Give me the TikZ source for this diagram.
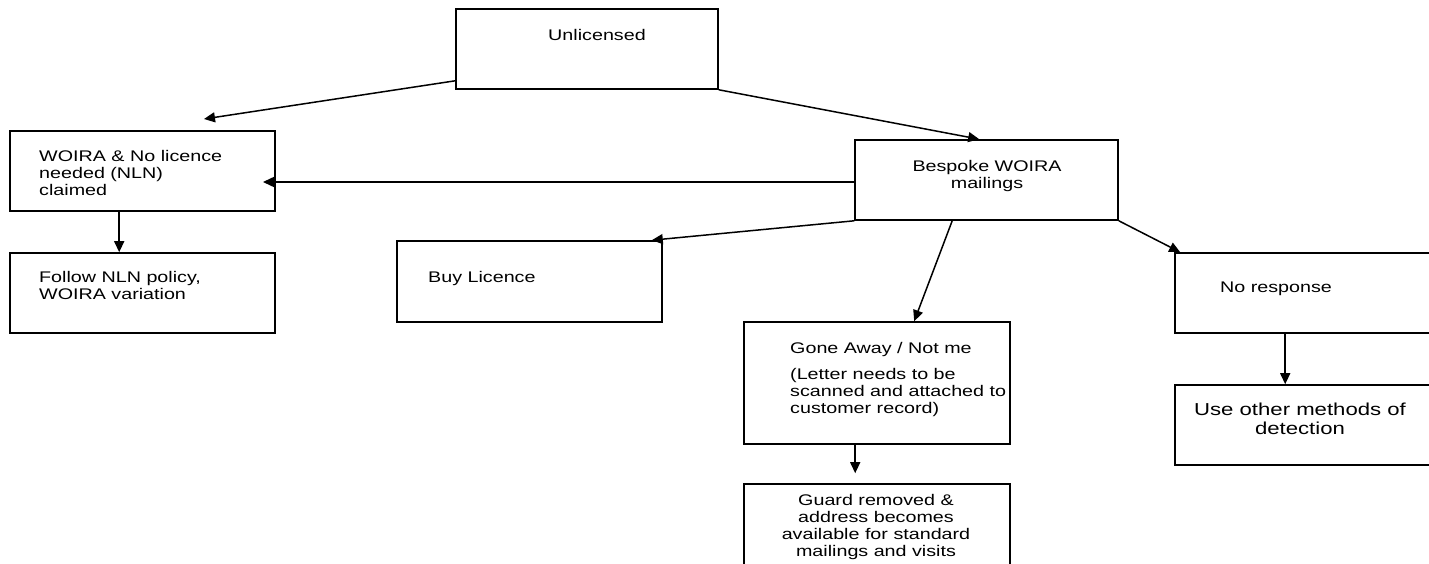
\documentclass[tikz,border=0pt]{standalone}
\usepackage{fontspec}
\setmainfont[FakeStretch=1.28]{Liberation Sans}
\usetikzlibrary{arrows.meta,calc}
\begin{document}
\begin{tikzpicture}[x=1pt,y=1pt,
  box/.style={draw, line width=1.6pt, inner sep=0pt},
  txt/.style={inner sep=0pt, font=\fontsize{15.4}{17}\selectfont},
  bigtxt/.style={inner sep=0pt, font=\fontsize{17.3}{19}\selectfont},
  arr/.style={line width=1.5pt, -{Triangle[length=11pt,width=10pt]}}]
\useasboundingbox (0,0) rectangle (1429,563);
\clip (0,0) rectangle (1429,563);
\fill[white] (0,0) rectangle (1429,563);
% boxes
\node[box, minimum width=262, minimum height=80] (unl) at (587,514) {};
\node[box, minimum width=265, minimum height=80] (woira) at (142.5,392) {};
\node[box, minimum width=265, minimum height=80] (follow) at (142.5,270) {};
\node[box, minimum width=265, minimum height=81] (buy) at (529.5,281.5) {};
\node[box, minimum width=263, minimum height=80] (besp) at (986.5,383) {};
\node[box, minimum width=266, minimum height=122] (gone) at (877,180) {};
\node[box, minimum width=266, minimum height=100] (guard) at (877,29) {};
\node[box, minimum width=265, minimum height=80] (nor) at (1307.5,270) {};
\node[box, minimum width=265, minimum height=80] (use) at (1307.5,138) {};
% texts
\node[txt] (tunl) at (597,528) {Unlicensed};
\node[txt, align=left, anchor=north west] (twoira) at (39,413) {WOIRA \& No licence\\needed (NLN)\\claimed};
\node[txt, align=left, anchor=north west] (tfollow) at (39,292) {Follow NLN policy,\\WOIRA variation};
\node[txt, align=left, anchor=north west] (tbuy) at (428,292) {Buy Licence};
\node[txt, align=center, anchor=north] (tbesp) at (987,403) {Bespoke WOIRA\\mailings};
\node[txt, align=left, anchor=north west] (tnor) at (1220,281) {No response};
\node[bigtxt, align=center, anchor=north] (tuse) at (1300,160) {Use other methods of\\detection};
\node[txt, align=left, anchor=north west] (tgone) at (790,221) {Gone Away / Not me};
\node[txt, align=left, anchor=north west] (tgone2) at (790,195) {(Letter needs to be\\scanned and attached to\\customer record)};
\node[txt, align=center, anchor=north] (tguard) at (876,69) {Guard removed \&\\address becomes\\available for standard\\mailings and visits};
% connectors
\coordinate (e1) at (204,444);
\coordinate (e3) at (263,381);
\draw[arr] ($(unl.south west)+(0,9)$) -- (e1);
\draw[arr] (unl.south east) -- ($(besp.north west)+(125,0)$);
\draw[arr] (besp.west |- e3) -- (e3);
\draw[arr] ($(woira.south west)+(110,0)$) -- ($(follow.north west)+(110,0)$);
\draw[arr] (besp.south west) -- ($(buy.north east)+(-11,0)$);
\draw[arr] ($(besp.south west)+(98,0)$) -- ($(gone.north west)+(171,0)$);
\draw[arr] (besp.south east) -- ($(nor.north west)+(6,0)$);
\draw[arr] ($(nor.south west)+(111,0)$) -- ($(use.north west)+(111,0)$);
\draw[arr] ($(gone.south west)+(112,0)$) -- ($(guard.north west)+(112,10)$);
\end{tikzpicture}
\end{document}
